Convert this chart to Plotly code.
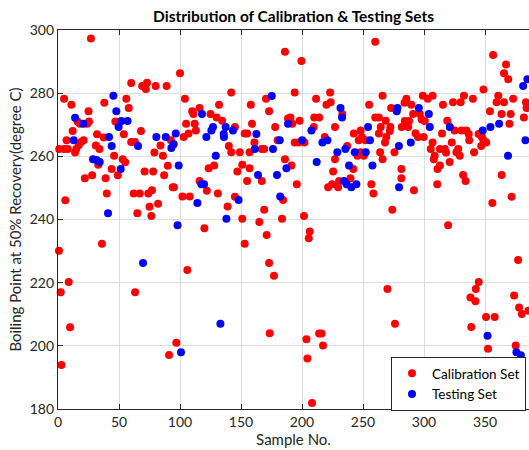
import plotly.graph_objects as go

# ---------------- data ----------------
cal_x = [
    27, 60, 69, 73, 72, 80, 89, 5, 11, 38, 56, 58, 25, 16, 18, 25.4, 24, 47, 68, 54, 12, 32, 37.5,
    7, 21, 19, 17, 15, 5, 8, 1, 14, 31, 34, 60, 63, 79, 84, 92.5, 46, 53, 55, 33, 44, 22, 28, 39, 49,
    71, 78, 87, 90, 86, 94, 6, 40, 62, 67, 74, 77, 82, 75, 65, 76.5, 36,
    100, 186, 142, 104, 132, 158, 170.5, 173, 110, 111, 116, 125, 130, 134.5, 105, 112, 113, 107,
    103, 145, 159, 178, 153, 155, 180, 161, 140, 142, 149, 157, 167, 169, 186, 151, 157, 147,
    123.5, 128, 167, 155, 116, 95, 122, 102, 108, 131, 145, 139, 184.5, 169, 151, 165, 183.6, 120,
    171, 153, 188.5,
    260, 199.5, 194, 223, 223.5, 220, 211.5, 266, 255, 273, 284, 190.5, 192, 198, 210, 214, 209.6,
    233, 227, 260, 263, 268.6, 272.4, 272, 264.5, 263, 269, 268, 281.7, 218.6, 219.4, 194, 197, 202,
    242.4, 248, 246.5, 252, 249, 237, 245.4, 250.6, 248, 264, 266, 275.7, 191.3, 227, 242, 225.5,
    239.7, 230.4, 224.6, 221.4, 229.6, 195.7, 256.8, 258.5, 281.4, 281.4, 201.6, 206.3, 205.5, 274,
    356.6, 367.2, 365.5, 369, 348.7, 285.5, 289.6, 299, 303, 307, 315.5, 323.7, 330, 332.7, 340,
    360.8, 359.4, 365.5, 373, 383.5, 384, 354, 291, 296.5, 300.6, 298, 284.2, 287.7, 287, 363.5,
    371, 381.8, 370, 319, 293, 295, 299.7, 314.7, 325, 330.6, 334.7, 336.6, 337, 344.7, 347.4,
    348.7, 351, 346.8, 322.7, 307, 305.5, 313, 317, 318, 328, 326.5, 329.3, 341, 308.7, 308, 321,
    313, 311, 291.7, 310.8, 332, 334, 363.6, 371.7, 356, 319.7,
    0.8, 2.2, 8.8, 9.9, 2.8, 63.2, 106, 97, 91, 173, 173.5, 177, 203.6, 204.4, 208.2, 214, 216,
    217.2, 270, 276.2, 344.8, 342.4, 338, 342.1, 338.7, 350.8, 357.9, 352.4, 377.1, 373.8, 377.9,
    380.1, 375.1, 385.5,
]
cal_y = [
    297.3, 283.2, 282.3, 283.3, 281.3, 282.3, 282.3, 278.2, 276.3, 277, 278.2, 275.3, 274.3, 271,
    270.3, 271, 270.3, 271, 268, 267, 268, 267, 266, 265.1, 265.1, 264.5, 263.6, 262.3, 262.3,
    262.3, 262.3, 261.2, 263.4, 262.3, 264.5, 264.5, 261.2, 263.4, 265.1, 260.2, 259.1, 258.1,
    257.3, 256, 253.1, 254, 253.1, 254, 255.2, 255.2, 254, 257, 260.2, 250.2, 246.1, 248.2, 248.2,
    248.2, 248.2, 249.3, 245, 244, 242, 241.1, 232.3,
    286.3, 293.1, 280.2, 278.2, 276.3, 276.3, 278.2, 274.3, 274.3, 273.4, 275.3, 273.4, 272.3,
    271.3, 270.3, 270.3, 268.2, 267.2, 266.1, 269.3, 270.3, 269.3, 267.2, 267.2, 265.1, 264.4,
    263.3, 261.3, 261.3, 261.3, 262.3, 262.3, 259.1, 257.3, 256.2, 255.2, 256.2, 257.1, 252.2,
    252.2, 252.2, 250.2, 249.1, 247.3, 247.3, 248.2, 247.2, 244.1, 246.2, 243.1, 240.2, 239.2,
    240.2, 237.2, 235.1, 232.3, 272,
    296.3, 290.2, 280.2, 280.2, 277.1, 276.3, 278.2, 279.2, 276.3, 275.3, 277, 272.3, 270.3, 271.3,
    272.3, 272.3, 269.3, 273.4, 269.3, 272.3, 272.3, 271.3, 269.3, 268, 269.3, 267.2, 266.1, 264.4,
    269.3, 266.1, 265.3, 264.4, 264.4, 264.4, 267.2, 268.2, 265.1, 265.1, 266.1, 263.3, 260.2,
    260.2, 261.3, 261.3, 259.1, 261.3, 257.1, 259.1, 256, 255.2, 253.1, 252.2, 251.2, 250.2, 250.2,
    251.2, 251.2, 248.2, 256, 253.1, 241.1, 236.2, 234.1, 243.1,
    292.1, 289.1, 286.3, 284.4, 281.2, 278.2, 276.3, 279.2, 278.2, 279.2, 276.3, 277.1, 277.1,
    279.2, 278.2, 279.2, 277.1, 277.1, 278.2, 277.1, 275.3, 274.3, 273.4, 273.4, 271.2, 271.7,
    271.2, 271.2, 269.3, 273.4, 273.4, 272.3, 270.3, 271.3, 267.3, 266.1, 266.1, 267.2, 268.2,
    268.2, 268.2, 267.1, 265.1, 267.1, 266.1, 265.1, 264.4, 263.3, 264.4, 264.4, 262.3, 262.3,
    262.3, 261.2, 262.3, 261.3, 260.2, 261.3, 260.2, 259.1, 258.2, 257.1, 256, 249.3, 251.2, 254.1,
    252.2, 254.1, 247.2, 245.2, 238.2,
    230.1, 217, 220.2, 205.9, 193.9, 217, 224, 201, 197.1, 226.2, 204, 222.2, 202.1, 196, 181.9,
    203.9, 203.9, 200.1, 218, 207, 220.2, 218, 215.3, 214.1, 206, 209.1, 209.1, 199.1, 227.2,
    215.9, 212.1, 210.1, 200.1, 211.1,
]

test_x = [
    45.4, 47.8, 14, 20.8, 52, 57, 49.7, 12.9, 41.8, 44, 65.6, 80.6, 88.3, 92.9, 94.8, 28.7, 31.5,
    34.2, 51.4, 41,
    118, 127, 125.7, 137.4, 143.4, 135.8, 136, 121.6, 162.6, 188.5, 181.7, 161.3, 176.2, 129.3,
    98.9, 187.2, 163.9, 179.5, 117.5, 119.7, 114.2, 148, 182.1, 138, 98, 175.2, 96.5,
    231.5, 232.8, 207.7, 200.1, 216.7, 220.8, 228.9, 235.5, 243.2, 252.2, 254.1, 255.7, 278.2,
    277.6, 279.4, 212, 238.5, 257.7, 234.4, 236.6, 240.4, 244.5, 279.5,
    381.2, 384.7, 295.7, 303.9, 304.7, 321.1, 348.1, 354.4, 361.5, 289.1, 383.1, 368.8,
    69.7, 133.1, 100.8, 352, 375.7, 379.3,
]
test_y = [
    279.2, 274.3, 272.2, 270.3, 271.2, 271.2, 269.3, 265.1, 266.1, 263.3, 263.3, 266.1, 266.1,
    262.6, 263.8, 259.1, 258.8, 258.2, 256, 242,
    273.4, 269.3, 268.2, 269.3, 268.2, 267.1, 266.1, 266.1, 267.1, 270.3, 265.1, 262.3, 262.3,
    260.2, 257.1, 256.2, 254.1, 254.1, 251.2, 251.2, 245.2, 246.2, 247.3, 240.2, 238.2, 279.1,
    267.2,
    275.3, 272.3, 268.2, 265.1, 264.4, 265.1, 261.3, 262.3, 261.3, 261.3, 269.3, 265.1, 275.3,
    274.3, 263.3, 258.2, 257.1, 257.1, 252.2, 251.2, 250.2, 251.2, 250.2,
    282.3, 284.4, 275.3, 273.4, 269.3, 269.3, 268.2, 269.3, 270.3, 264.4, 265.1, 260.2,
    226.2, 207, 198, 203.2, 198, 197,
]

x_ticks = [0, 50, 100, 150, 200, 250, 300, 350]
y_ticks = [180, 200, 220, 240, 260, 280, 300]

title_text = "Distribution of Calibration & Testing Sets"
x_label = "Sample No."
y_label = "Boiling Point at 50% Recovery(degree C)"
series_names = ["Calibration Set", "Testing Set"]

# ---------------- figure ----------------
FONT = "Lato, 'Open Sans', sans-serif"
AXC = "#262626"

fig = go.Figure()
fig.add_trace(go.Scatter(
    x=cal_x, y=cal_y, mode="markers", name=series_names[0],
    marker=dict(color="#ff0000", size=8, line=dict(width=0)), cliponaxis=False,
))
fig.add_trace(go.Scatter(
    x=test_x, y=test_y, mode="markers", name=series_names[1],
    marker=dict(color="#0000ff", size=8, line=dict(width=0)), cliponaxis=False,
))

fig.update_layout(
    width=529, height=450,
    margin=dict(l=58, r=0, t=30, b=41),
    paper_bgcolor="white", plot_bgcolor="white",
    font=dict(family=FONT, color=AXC, size=14),
    title=dict(text="<b>" + title_text + "</b>", x=0.555, xanchor="center",
               y=1 - 17 / 450, yanchor="middle", yref="container",
               font=dict(family=FONT, size=15.5, color="#000000")),
    showlegend=True,
    legend=dict(x=0.707, y=0.137, xanchor="left", yanchor="top",
                bgcolor="white", bordercolor=AXC, borderwidth=1,
                font=dict(family=FONT, size=13.5, color="#000000"),
                tracegroupgap=0, itemsizing="trace"),
)
fig.update_xaxes(
    range=[0, 386], tickvals=x_ticks, ticktext=[str(v) for v in x_ticks],
    showgrid=True, gridcolor="#dedede", gridwidth=1, zeroline=False,
    showline=True, linecolor=AXC, linewidth=1.3, mirror="ticks",
    ticks="inside", ticklen=5, tickcolor=AXC,
    tickfont=dict(family=FONT, size=14, color=AXC),
    title=dict(text=x_label, font=dict(family=FONT, size=15, color=AXC), standoff=2),
)
fig.update_yaxes(
    range=[180, 300], tickvals=y_ticks, ticktext=[str(v) for v in y_ticks],
    showgrid=True, gridcolor="#dedede", gridwidth=1, zeroline=False,
    showline=True, linecolor=AXC, linewidth=1.3, mirror=False,
    ticks="inside", ticklen=5, tickcolor=AXC,
    tickfont=dict(family=FONT, size=14, color=AXC),
    title=dict(text=y_label, font=dict(family=FONT, size=15, color=AXC), standoff=4),
)

fig.write_html("out.html")
